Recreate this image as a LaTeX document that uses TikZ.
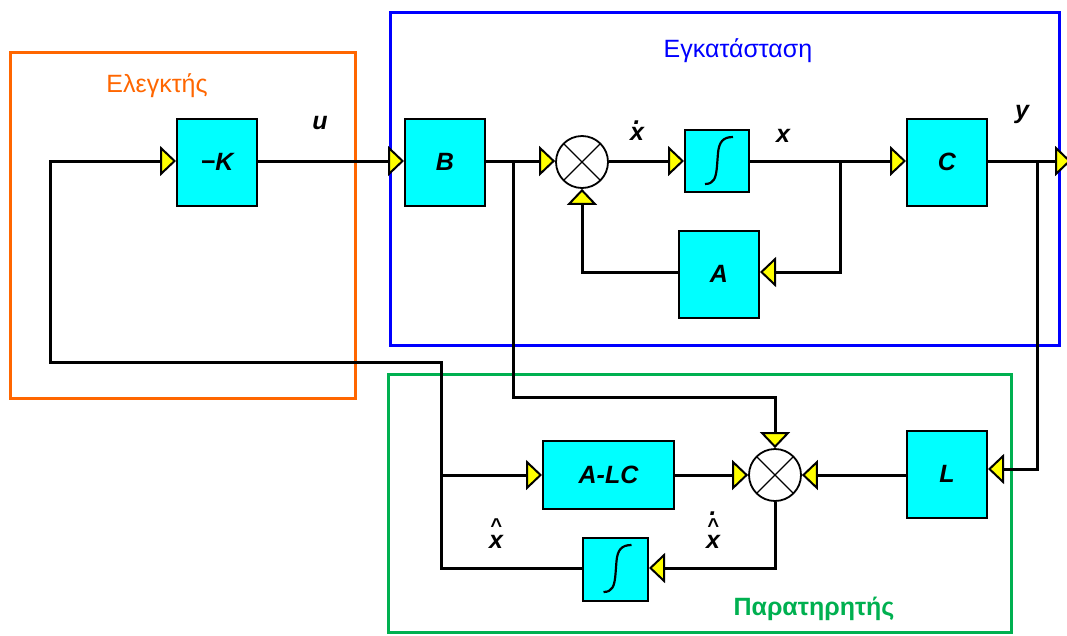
\documentclass[tikz,border=0pt]{standalone}
\usepackage{fontspec}
\setmainfont{Liberation Sans}
\usetikzlibrary{arrows.meta}
\definecolor{orng}{HTML}{FF6600}
\definecolor{blu}{HTML}{0000FF}
\definecolor{grn}{HTML}{00B050}
\definecolor{cyn}{HTML}{00FFFF}
\definecolor{ylw}{HTML}{FFFF00}
\newcommand{\myxd}{\ooalign{x\cr\hidewidth\raisebox{16pt}{.}\hidewidth\cr}}
\newcommand{\myxh}{\ooalign{x\cr\hidewidth\raisebox{16pt}{\fontsize{20}{20}\selectfont\textasciicircum}\hidewidth\cr}}
\newcommand{\myxhd}{\ooalign{x\cr\hidewidth\raisebox{16pt}{\fontsize{20}{20}\selectfont\textasciicircum}\hidewidth\cr\hidewidth\raisebox{33pt}{.}\hidewidth\cr}}
\begin{document}
\begin{tikzpicture}[x=1pt,y=-1pt,
  blk/.style={draw=black, line width=2pt, fill=cyn, minimum width=80pt, minimum height=87pt, inner sep=0pt, font=\fontsize{25}{30}\selectfont\bfseries\itshape},
  sum/.style={circle, draw=black, line width=1.8pt, fill=white, minimum size=52pt, inner sep=0pt,
    path picture={\draw[line width=1.3pt] (path picture bounding box.north west) -- (path picture bounding box.south east) (path picture bounding box.south west) -- (path picture bounding box.north east);}},
  conn/.style={line width=3pt, -{Triangle[length=16pt,width=30pt,fill=ylw,line width=2pt]}},
  wire/.style={line width=3pt},
  frame/.style={line width=3pt},
  integ/.style={line width=2.2pt},
  sig/.style={font=\fontsize{25}{30}\selectfont\bfseries\itshape, anchor=base, inner sep=0pt},
  ttl/.style={font=\fontsize{25}{30}\selectfont, anchor=base, inner sep=0pt}
]
\path[use as bounding box, clip] (0,0) rectangle (1067,635);

% frames
\draw[frame, orng] (10,52) rectangle (355,398);
\draw[frame, blu] (390,12) rectangle (1059,345);
\draw[frame, grn] (388,374) rectangle (1011,632);

% titles
\node[ttl, text=orng] (t1) at (157,92) {Ελεγκτής};
\node[ttl, text=blu] (t2) at (738,57) {Εγκατάσταση};
\node[ttl, text=grn, font=\fontsize{25}{30}\selectfont\bfseries] (t3) at (814,615) {Παρατηρητής};

% blocks
\node[blk] (K) at (217,162) {−K};
\node[blk] (B) at (445,162) {B};
\node[sum] (S1) at (582,162) {};
\node[blk, minimum width=64pt, minimum height=62pt] (I1) at (717,161) {};
\node[blk] (C) at (947,162) {C};
\node[blk] (A) at (719,274) {A};
\node[blk, minimum width=131pt, minimum height=68pt] (ALC) at (608.5,475) {A-LC};
\node[sum] (S2) at (775,475) {};
\node[blk] (L) at (947,474) {L};
\node[blk, minimum width=65pt, minimum height=63pt] (I2) at (615.5,569) {};

% integrator symbols
\draw[integ, shift={(I1.center)}] (-12,23) .. controls (-3,23) and (-1,17) .. (0,5) -- (1,-8) .. controls (2,-19) and (6,-24) .. (16,-24);
\draw[integ, shift={(I2.center)}] (-12,23) .. controls (-3,23) and (-1,17) .. (0,5) -- (1,-8) .. controls (2,-19) and (6,-24) .. (16,-24);

% coordinates
\coordinate (j1) at (513,161);
\coordinate (j2) at (840,161);
\coordinate (j3) at (1037,161);
\coordinate (yend) at (1071,161);
\coordinate (c1) at (513,397);
\coordinate (j4) at (441,475);
\coordinate (f1) at (441,362);
\coordinate (f2) at (50,161);

% connectors
\draw[conn] (K.east |- j1) -- (B.west |- j1);
\draw[conn] (B.east |- j1) -- (S1.west |- j1);
\draw[conn] (S1.east |- j1) -- (I1.west |- j1);
\draw[conn] (I1.east |- j1) -- (C.west |- j1);
\draw[conn] (C.east |- j1) -- (yend);
\draw[conn] (j2) |- ([yshift=2pt]A.east);
\draw[conn] ([yshift=2pt]A.west) -| (S1.south);
\draw[conn] (j1) -- (c1) -| (S2.north);
\draw[conn] (j3) |- ([yshift=5pt]L.east);
\draw[conn] (L.west |- j4) -- (S2.east);
\draw[conn] (ALC.east) -- (S2.west);
\draw[conn] (S2.south) |- ([yshift=1pt]I2.east);
\draw[conn] ([yshift=1pt]I2.west) -| (f1) -| (f2) -- (K.west |- j1);
\draw[conn] (j4) -- (ALC.west);

% signal labels
\node[sig] (lu) at (320,129) {u};
\node[sig] (lxd) at (637,140) {\myxd};
\node[sig] (lx) at (783,142) {x};
\node[sig] (ly) at (1022,118) {y};
\node[sig] (lxh) at (496,548) {\myxh};
\node[sig] (lxhd) at (713,548) {\myxhd};
\end{tikzpicture}
\end{document}
